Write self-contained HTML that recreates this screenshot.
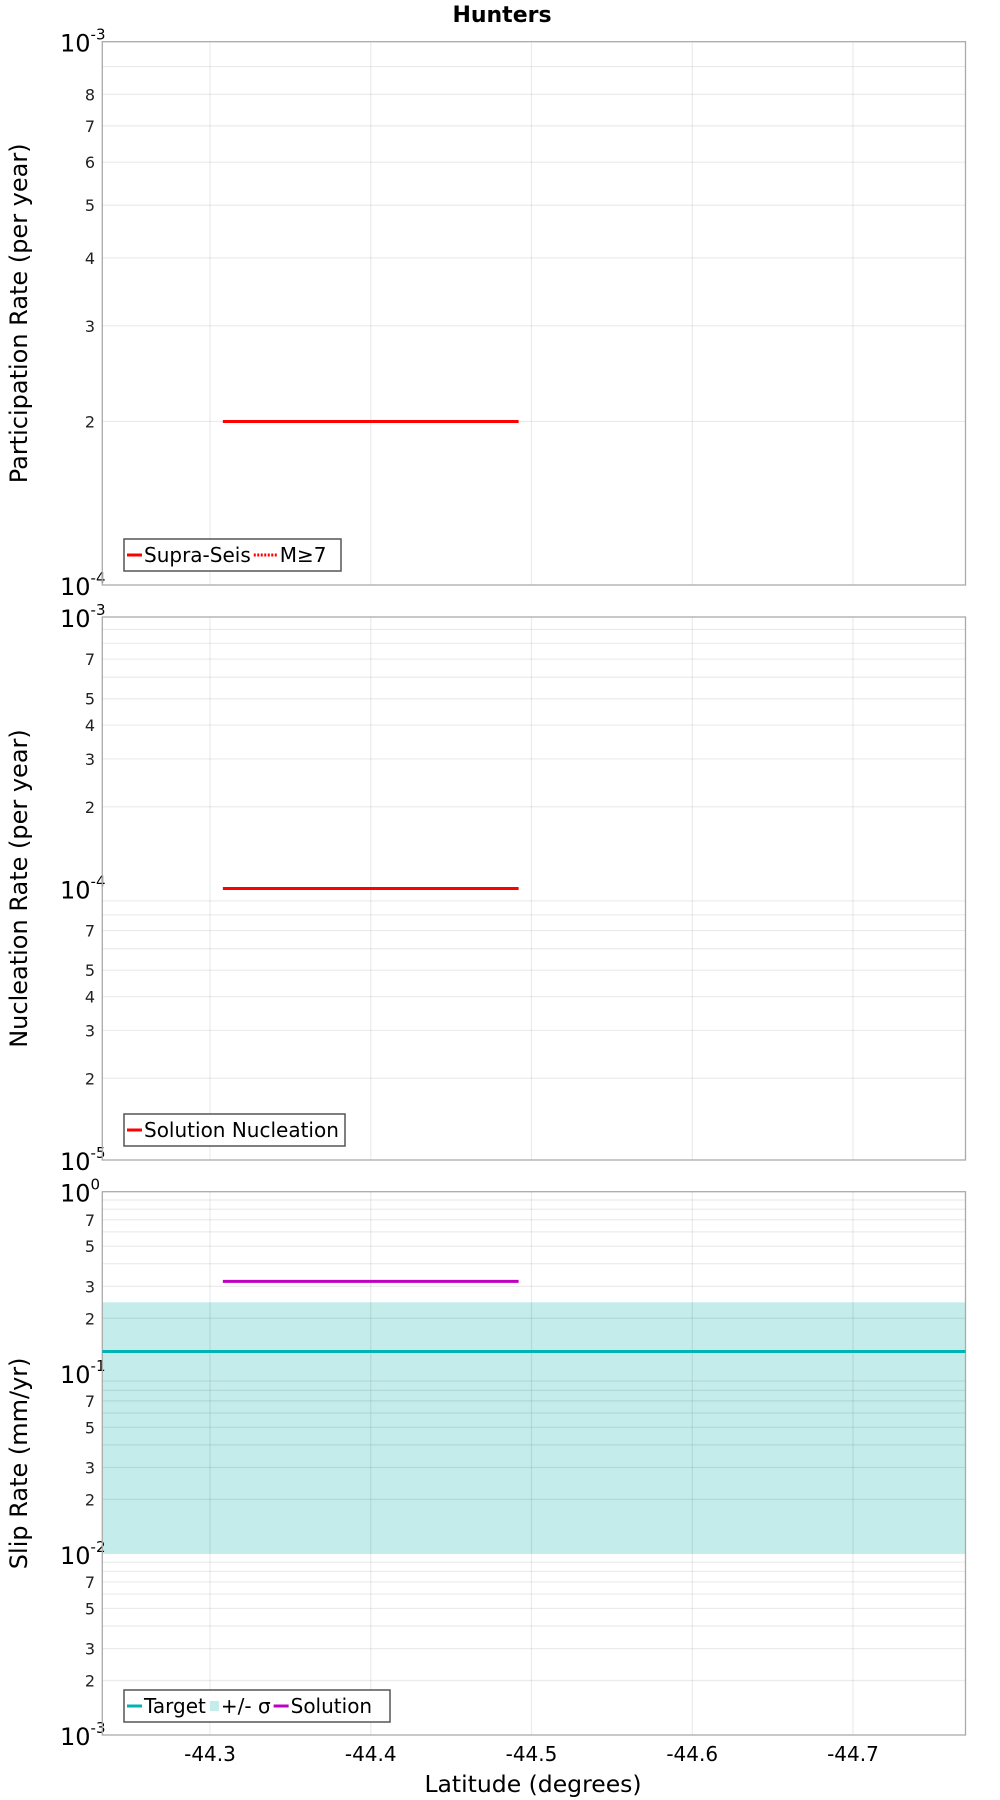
<!DOCTYPE html>
<html><head><meta charset="utf-8"><style>
html,body{margin:0;padding:0;background:#fff;}
svg{display:block;font-family:"DejaVu Sans","Liberation Sans",sans-serif;}
</style></head><body>
<svg id="chart" width="1000" height="1800" viewBox="0 0 1000 1800">
<text x="502" y="22" text-anchor="middle" font-size="22" font-weight="bold">Hunters</text>
<text x="533" y="1792" text-anchor="middle" font-size="23.5">Latitude (degrees)</text>
</svg>
<script>
// Data
const xTicks = [-44.3, -44.4, -44.5, -44.6, -44.7];
const xDomain = [-44.233, -44.770];
const p1Series = [{x0:-44.308, x1:-44.492, y:2.0e-4}];
const p2Series = [{x0:-44.308, x1:-44.492, y:1.0e-4}];
const p3Solution = [{x0:-44.308, x1:-44.492, y:0.32}];
const p3Target = [0.131];
const p3Band = [0.010, 0.245];
const panels = [
 {top:41.7, bot:585, lo:-4, hi:-3, title:"Participation Rate (per year)", labeled:[2,3,4,5,6,7,8], name:"participation"},
 {top:617, bot:1160, lo:-5, hi:-3, title:"Nucleation Rate (per year)", labeled:[2,3,4,5,7], name:"nucleation"},
 {top:1191.7, bot:1735, lo:-3, hi:0, title:"Slip Rate (mm/yr)", labeled:[2,3,5,7], name:"slip-rate"}
];
const L = 102.3, R = 965.5;
const NS = "http://www.w3.org/2000/svg";
const svg = document.getElementById('chart');
function xs(v){ return L + (v - xDomain[0]) / (xDomain[1] - xDomain[0]) * (R - L); }
function mk(tag, attrs, parent){ const e = document.createElementNS(NS, tag); for (const k in attrs) e.setAttribute(k, attrs[k]); (parent||svg).appendChild(e); return e; }
panels.forEach((p, pi) => {
  const ys = v => p.bot - (Math.log10(v) - p.lo) / (p.hi - p.lo) * (p.bot - p.top);
  p.ys = ys;
  const g = mk('g', {});
  
  
  if (pi === 2) {
    const b = mk('rect', {x:L, y:ys(p3Band[1]), width:R-L, height:ys(p3Band[0])-ys(p3Band[1]), fill:'#c3ecea'}, g);
    
    
  }
  for (let e = p.lo; e < p.hi; e++) {
    for (let m = 1; m <= 9; m++) {
      const v = m * Math.pow(10, e);
      const y = ys(v);
      if (m > 1) mk('line', {x1:L, x2:R, y1:y, y2:y, stroke:'rgba(0,0,0,0.08)', 'stroke-width':1.2}, g);
      if (m > 1 && p.labeled.includes(m)) {
        const t = mk('text', {x:95, y:y+6, 'text-anchor':'end', 'font-size':16, fill:'#222'}, g);
        t.textContent = m;
        
        
      }
    }
  }
  for (let e = p.lo; e <= p.hi; e++) {
    const y = ys(Math.pow(10, e));
    const t = mk('text', {x:60, y:y+10, 'font-size':24}, g);
    t.textContent = '10';
    const s = mk('tspan', {dy:-12, 'font-size':15}, t);
    s.textContent = String(e);
    
    
  }
  xTicks.forEach(v => mk('line', {x1:xs(v), x2:xs(v), y1:p.top, y2:p.bot, stroke:'rgba(0,0,0,0.08)', 'stroke-width':1.2}, g));
  const fr = mk('rect', {x:L, y:p.top, width:R-L, height:p.bot-p.top, fill:'none', stroke:'#aaa', 'stroke-width':1.3}, g);
  
  
  const cy = (p.top + p.bot) / 2;
  const tt = mk('text', {x:0, y:0, 'font-size':24, 'text-anchor':'middle', transform:`translate(27,${cy}) rotate(-90)`}, g);
  tt.textContent = p.title;
  
  
});
xTicks.forEach(v => {
  const t = mk('text', {x:xs(v), y:1761, 'text-anchor':'middle', 'font-size':20});
  t.textContent = v.toFixed(1);
  
  
});
p1Series.forEach(d => { const l = mk('line', {x1:xs(d.x0), x2:xs(d.x1), y1:panels[0].ys(d.y), y2:panels[0].ys(d.y), stroke:'#f00', 'stroke-width':3});
    });
p2Series.forEach(d => { const l = mk('line', {x1:xs(d.x0), x2:xs(d.x1), y1:panels[1].ys(d.y), y2:panels[1].ys(d.y), stroke:'#f00', 'stroke-width':3});
    });
p3Target.forEach(v => { const l = mk('line', {x1:L, x2:R, y1:panels[2].ys(v), y2:panels[2].ys(v), stroke:'#00b2b2', 'stroke-width':3});
    });
p3Solution.forEach(d => { const l = mk('line', {x1:xs(d.x0), x2:xs(d.x1), y1:panels[2].ys(d.y), y2:panels[2].ys(d.y), stroke:'#c000c0', 'stroke-width':3});
    });
function legend(y, w, items, name){
  const g = mk('g', {});
  
  
  mk('rect', {x:124, y:y, width:w, height:32, fill:'#fff', stroke:'#555', 'stroke-width':1.5}, g);
  let x = 127;
  items.forEach(it => {
    if (it.type === 'rect') mk('rect', {x:x+1, y:y+11, width:9, height:10, fill:it.color}, g);
    else mk('line', {x1:x, x2:x+(it.type==='dot'?24:15), y1:y+16, y2:y+16, stroke:it.color, 'stroke-width':3, 'stroke-dasharray':it.type==='dot'?'2,1.5':'none'}, g);
    x += it.type==='dot' ? 26 : (it.type==='rect'?12:17);
    const t = mk('text', {x:x, y:y+23, 'font-size':20}, g);
    t.textContent = it.label;
    x += t.getComputedTextLength() + 3;
  });
}
legend(539, 217, [{type:'line',color:'#f00',label:'Supra-Seis'},{type:'dot',color:'#f00',label:'M≥7'}], 'legend-participation');
legend(1114, 221, [{type:'line',color:'#f00',label:'Solution Nucleation'}], 'legend-nucleation');
legend(1690, 266, [{type:'line',color:'#00b2b2',label:'Target'},{type:'rect',color:'#c3ecea',label:'+/- σ'},{type:'line',color:'#c000c0',label:'Solution'}], 'legend-slip-rate');
</script>
</body></html>
